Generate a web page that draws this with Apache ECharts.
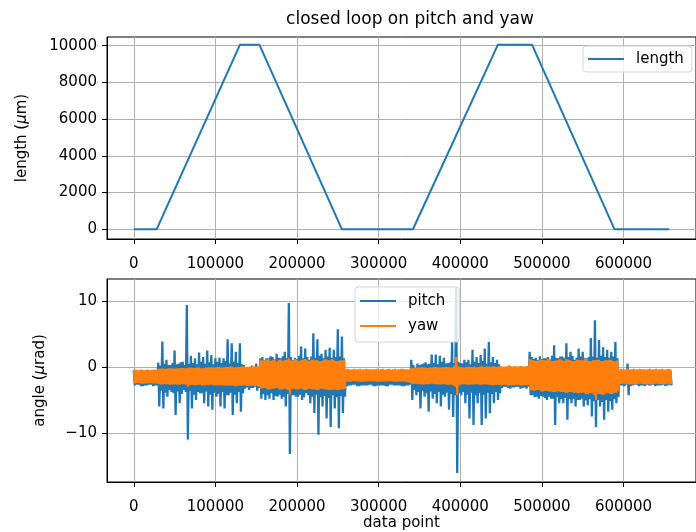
<!DOCTYPE html>
<html>
<head>
<meta charset="utf-8">
<script src="https://cdn.jsdelivr.net/npm/echarts@6/dist/echarts.min.js"></script>
<style>
html, body { margin: 0; padding: 0; background: #fff; }
#main { width: 696px; height: 532px; }
</style>
</head>
<body>
<div id="main"></div>
<script>
// length trace (top panel)
var lengthX = [0, 28000, 130000, 154000, 255000, 342000, 446000, 488000, 589000, 656000];
var lengthY = [0, 0, 10050, 10050, 0, 0, 10050, 10050, 0, 0];

// angle traces (bottom panel): upper / lower swing read every 2500 data points
var sampleStep = 2500;
var pitchHigh = [
  -0.6, -0.5, -0.7, -0.6, -0.5, -0.7, -0.6, -0.5, -0.7, -0.6, -0.5, -0.6,
  0.65, 0.2, 3.85, 0.5, 1.1, 0.3, 0.3, 0.6, 2.5, 0.4, 0.5, 0.7, 0.8, 0.3, 9.4, 0.5, 1.7, 0.6, 1.3, 0.4,
  2.2, 0.8, 1.5, 0.5, 2.5, 0.7, 1.8, 0.4, 1.3, 0.8, 1.4, 0.6, 1.3, 0.9, 4.2, 0.5, 3.6, 0.8, 2.3, 0.6, 3.6, 0.4,
  0.3, -0.2, 0.0, -0.1, 0.2, -0.3, 0.5, -0.1,
  1.3, 1.5, 1.0, 1.3, 1.3, 1.6, 1.5, 1.2, 2.0, 1.4, 1.3, 1.6, 2.3, 1.3, 9.7, 1.5, 1.0, 1.4, 1.2, 1.7,
  3.1, 1.3, 2.8, 1.5, 1.1, 1.6, 5.1, 1.4, 4.2, 1.7, 2.0, 1.3, 2.6, 1.6, 2.9, 1.4, 2.6, 1.5, 5.7, 1.6, 4.6, 1.3,
  -0.6, -0.5, -0.7, -0.6, -0.5, -0.6, -0.7, -0.5, -0.6, -0.6, -0.5, -0.7, -0.6, -0.5, -0.6, -0.7,
  -0.5, -0.6, -0.7, -0.6, -0.5, -0.6, -0.6, -0.7, -0.5, -0.6, -0.6, -0.5, -0.7, -0.6, -0.5, -0.6,
  1.1, 0.3, -0.2, 0.5, 0.3, 0.4, 0.5, 0.7, 0.4, 0.5, 1.9, 0.6, 1.9, 0.4, 1.7, 0.8, 1.4, 0.5, 0.6, 0.7, 3.8, 0.6,
  12.0, 0.8, 0.6, 0.5, 1.1, 0.7, 1.1, 0.4, 2.6, 0.8, 1.5, 0.6, 1.8, 0.9, 2.8, 0.5, 3.8, 0.7, 1.5, 0.6, 1.1, 0.4,
  0.0, -0.2, -0.1, -0.1, 0.2, -0.2, 0.0, -0.1, -0.1, -0.2, 0.1, 0.0, 0.0, -0.1,
  2.3, 1.5, 1.2, 1.4, 1.0, 1.6, 1.2, 1.3, 1.3, 1.5, 1.0, 1.7, 3.3, 1.4, 1.3, 1.6, 1.6, 1.3, 3.6, 1.5, 2.3, 1.7,
  1.1, 1.4, 2.8, 1.6, 2.3, 1.3, 1.3, 1.5, 4.4, 1.6, 7.1, 1.4, 4.1, 1.7, 3.0, 1.5, 2.6, 1.4, 2.3, 1.6, 3.8, 1.3,
  -0.6, -0.5, -0.5, -0.7, 0.5, -0.6, -0.6, -0.5, -0.7, -0.6, -0.5, -0.6, -0.6, -0.7,
  -0.6, -0.5, -0.5, -0.6, -0.7, -0.6, -0.6, -0.5, -0.5, -0.7, -0.6, -0.6];
var pitchLow = [
  -2.8, -2.7, -2.7, -2.9, -2.9, -2.8, -2.8, -2.7, -2.7, -2.9, -2.8, -2.8,
  -6.0, -3.6, -6.3, -3.9, -4.5, -3.5, -3.8, -4.0, -7.3, -3.7, -5.5, -4.1, -3.5, -3.8, -11.0, -3.6, -6.3, -4.2, -5.0, -3.8,
  -4.0, -4.0, -5.5, -3.7, -6.0, -4.2, -6.5, -3.9, -4.5, -4.1, -6.0, -3.8, -6.3, -4.3, -4.3, -3.9, -7.3, -4.2, -5.5, -3.8, -6.8, -4.0,
  -3.3, -3.1, -3.5, -3.2, -3.2, -3.0, -3.6, -3.2,
  -4.8, -4.1, -5.0, -4.3, -4.8, -4.0, -5.0, -4.4, -4.5, -4.2, -4.8, -4.5, -6.0, -4.1, -13.2, -4.3, -4.3, -4.5, -4.5, -4.2,
  -5.0, -4.6, -4.0, -4.3, -5.5, -4.5, -7.0, -4.2, -10.3, -4.6, -6.0, -4.4, -7.8, -4.7, -9.1, -4.3, -6.3, -4.6, -9.3, -4.4, -7.0, -4.5,
  -2.9, -2.8, -2.8, -2.7, -2.7, -2.9, -2.9, -2.8, -2.8, -2.8, -2.8, -2.7, -2.7, -2.9, -2.9, -2.8,
  -2.8, -2.8, -2.8, -2.9, -2.9, -2.7, -2.7, -2.8, -2.8, -2.8, -2.8, -2.9, -2.9, -2.8, -2.8, -2.7,
  -5.0, -3.5, -4.3, -3.8, -6.3, -3.6, -4.5, -4.0, -6.8, -3.7, -4.8, -4.1, -5.5, -3.8, -6.0, -4.2, -4.5, -3.9, -6.5, -4.1, -7.6, -4.3,
  -16.1, -4.0, -4.3, -3.8, -5.5, -4.2, -7.8, -3.9, -8.8, -4.3, -5.5, -4.0, -8.8, -4.2, -7.8, -3.9, -7.0, -4.1, -5.5, -3.8, -5.0, -4.0,
  -3.2, -3.0, -3.0, -3.2, -3.3, -3.1, -3.1, -3.0, -3.0, -3.3, -3.2, -3.1, -3.3, -3.0,
  -4.3, -4.3, -4.6, -4.5, -4.8, -4.4, -4.5, -4.7, -5.0, -4.5, -4.8, -4.8, -8.8, -4.6, -5.5, -4.9, -5.5, -4.7, -8.0, -4.9, -5.5, -4.8,
  -6.0, -5.0, -5.0, -4.8, -6.0, -5.1, -5.8, -4.9, -7.5, -5.2, -9.1, -5.0, -6.0, -5.3, -8.0, -5.0, -6.8, -5.2, -6.5, -4.9, -5.5, -4.6,
  -2.8, -2.8, -2.9, -2.7, -4.3, -2.9, -2.8, -2.7, -2.7, -2.9, -2.8, -2.8, -2.9, -2.7,
  -2.8, -2.8, -2.7, -2.9, -2.8, -2.8, -2.8, -2.7, -2.9, -2.8, -2.7, -2.8];
var yawHigh = [
  -0.45, -0.4, -0.5, -0.45, -0.4, -0.5, -0.45, -0.4, -0.5, -0.45, -0.4, -0.45,
  -0.3, -0.25, -0.2, -0.3, -0.3, -0.2, -0.2, -0.25, -0.25, -0.2, -0.2, -0.15, -0.15, -0.2, -0.2, -0.1, -0.1, -0.15,
  -0.15, -0.1, -0.1, -0.2, -0.2, -0.1, -0.1, -0.05, -0.05, -0.1, -0.1, 0.0, 0.0, -0.1, -0.1, 0.0, 0.0, 0.05, 0.05, -0.05,
  -0.05, 0.0, 0.0, 0.1, 0.1, 0.0, 0.0, 0.1, 0.1, 0.05, 0.05, 0.1,
  1.1, 1.0, 0.9, 1.1, 1.2, 0.9, 1.0, 1.2, 0.8, 1.0, 1.1, 0.9, 1.0, 1.1, 1.3, 1.0, 0.9, 1.2, 1.1, 0.9, 1.0, 1.1,
  1.2, 1.0, 0.9, 1.1, 1.1, 1.0, 1.0, 0.9, 0.9, 1.1, 1.2, 1.0, 1.0, 1.2, 1.1, 0.9, 0.9, 1.0, 1.0, 1.1,
  -0.35, -0.3, -0.4, -0.35, -0.3, -0.4, -0.35, -0.3, -0.4, -0.35, -0.3, -0.35, -0.35, -0.4, -0.35, -0.3,
  -0.4, -0.35, -0.3, -0.4, -0.35, -0.3, -0.4, -0.35, -0.3, -0.4, -0.35, -0.3, -0.3, -0.35, -0.35, -0.4,
  -0.1, -0.15, -0.2, -0.1, -0.1, -0.05, -0.05, -0.1, -0.15, -0.1, -0.1, 0.0, 0.0, -0.05, -0.1, -0.05, -0.05, 0.0, 0.0, -0.1, -0.1, 0.2,
  1.5, 0.1, 0.0, -0.05, -0.1, 0.0, 0.05, 0.0, 0.0, 0.05, -0.05, 0.0, 0.1, 0.05, 0.0, 0.1, 0.05, 0.0, 0.1, 0.05, 0.0, 0.1,
  0.1, 0.05, 0.05, 0.1, 0.15, 0.05, 0.1, 0.15, 0.05, 0.1, 0.15, 0.05, 0.1, 0.15,
  1.2, 1.1, 1.0, 0.9, 0.9, 1.1, 1.1, 1.0, 1.0, 1.2, 1.2, 0.9, 0.9, 1.0, 1.1, 1.2, 1.0, 0.9, 1.2, 1.1, 1.0, 0.9,
  0.9, 1.1, 1.1, 1.0, 1.0, 1.2, 1.2, 0.9, 0.9, 1.0, 1.0, 1.1, 1.1, 0.9, 0.9, 1.0, 1.0, 1.1, 1.1, 0.9, 0.9, 1.0,
  -0.35, -0.3, -0.4, -0.35, -0.3, -0.4, -0.35, -0.3, -0.4, -0.35, -0.3, -0.35, -0.35,
  -0.4, -0.35, -0.3, -0.4, -0.35, -0.3, -0.4, -0.35, -0.3, -0.4, -0.35, -0.3, -0.35];
var yawLow = [
  -2.5, -2.45, -2.45, -2.55, -2.55, -2.5, -2.5, -2.45, -2.45, -2.5, -2.5, -2.55,
  -2.6, -2.65, -2.65, -2.6, -2.6, -2.7, -2.7, -2.65, -2.65, -2.7, -2.7, -2.6, -2.6, -2.7, -3.0, -2.75, -2.7, -2.75,
  -2.75, -2.7, -2.7, -2.8, -2.8, -2.75, -2.75, -2.7, -2.7, -2.8, -2.8, -2.75, -2.75, -2.8, -2.8, -2.85, -2.85, -2.8, -2.8, -2.9,
  -2.9, -2.85, -2.85, -2.8, -2.8, -2.9, -2.9, -2.85, -2.85, -2.9, -2.9, -3.0,
  -3.3, -3.2, -3.2, -3.4, -3.4, -3.3, -3.3, -3.2, -3.2, -3.4, -3.4, -3.3, -3.3, -3.5, -4.2, -3.3, -3.3, -3.4, -3.4, -3.3, -3.3, -3.5,
  -3.5, -3.3, -3.3, -3.4, -3.4, -3.5, -3.5, -3.3, -3.3, -3.4, -3.4, -3.5, -3.5, -3.4, -3.4, -3.5, -3.5, -3.4, -3.4, -3.3,
  -2.2, -2.25, -2.25, -2.15, -2.15, -2.2, -2.2, -2.25, -2.25, -2.2, -2.2, -2.15, -2.15, -2.2, -2.2, -2.25,
  -2.25, -2.2, -2.2, -2.2, -2.2, -2.15, -2.15, -2.25, -2.25, -2.2, -2.2, -2.2, -2.2, -2.3, -2.3, -2.4,
  -2.6, -2.55, -2.55, -2.6, -2.6, -2.65, -2.65, -2.6, -2.6, -2.55, -2.55, -2.6, -2.6, -2.65, -2.65, -2.6, -2.6, -2.7, -2.7, -2.65, -2.8, -3.0,
  -4.3, -2.8, -2.65, -2.6, -2.6, -2.7, -2.7, -2.65, -2.65, -2.6, -2.6, -2.7, -2.7, -2.65, -2.65, -2.7, -2.7, -2.75, -2.75, -2.7, -2.7, -2.75,
  -2.75, -2.7, -2.7, -2.8, -2.8, -2.75, -2.75, -2.7, -2.7, -2.8, -2.8, -2.75, -2.75, -2.8,
  -3.5, -3.6, -3.6, -3.5, -3.5, -3.7, -3.7, -3.6, -3.6, -3.7, -3.7, -3.8, -3.8, -3.7, -3.7, -3.8, -3.8, -3.9, -3.9, -3.8, -3.8, -3.9,
  -3.9, -4.0, -4.0, -3.9, -3.9, -4.1, -4.1, -4.0, -4.0, -4.2, -5.0, -4.1, -4.1, -4.2, -4.2, -4.0, -4.0, -4.1, -4.1, -3.9, -3.9, -3.6,
  -2.6, -2.55, -2.55, -2.6, -2.6, -2.65, -2.65, -2.6, -2.6, -2.55, -2.55, -2.6, -2.6,
  -2.6, -2.6, -2.65, -2.65, -2.55, -2.55, -2.6, -2.6, -2.6, -2.6, -2.55, -2.55, -2.6];

// tick labels
var xTicks = [0, 100000, 200000, 300000, 400000, 500000, 600000];
var lengthTicks = [0, 2000, 4000, 6000, 8000, 10000];
var angleTicks = [-10, 0, 10];

var FONT = 'DejaVu Sans';

function pairs(xs, ys) {
    return xs.map(function (x, i) { return [x, ys[i]]; });
}

function swing(high, low) {
    var out = [];
    var n = Math.min(high.length, low.length);
    for (var i = 0; i < n; i++) {
        out.push([i * sampleStep, high[i]]);
        out.push([i * sampleStep + sampleStep / 2, low[i]]);
    }
    return out;
}

function minus(v) {
    return String(v).replace('-', '\u2212');
}

function xAxisCfg(gridIndex, withName) {
    var ax = {
        type: 'value', gridIndex: gridIndex, min: -32800, max: 688800,
        axisLine: { show: true, onZero: false, lineStyle: { color: '#000', width: 1 } },
        axisTick: { show: true, length: 5, customValues: xTicks, lineStyle: { color: '#000' } },
        axisLabel: { customValues: xTicks, margin: 12, fontSize: 15, fontFamily: FONT, color: '#000',
            padding: [6, 0, 0, 0], formatter: minus },
        splitLine: { show: true, lineStyle: { color: '#b0b0b0', width: 1 } }
    };
    if (withName) {
        ax.name = 'data point';
        ax.nameLocation = 'middle';
        ax.nameGap = 34;
        ax.nameTextStyle = { fontSize: 15, fontFamily: FONT, color: '#000' };
    }
    return ax;
}

function yAxisCfg(gridIndex, min, max, ticks, name, gap) {
    return {
        type: 'value', gridIndex: gridIndex, min: min, max: max,
        name: name, nameLocation: 'middle', nameGap: gap,
        nameTextStyle: { fontSize: 15, fontFamily: FONT, color: '#000',
            rich: { i: { fontStyle: 'italic', fontSize: 15, fontFamily: FONT, color: '#000' } } },
        axisLine: { show: true, onZero: false, lineStyle: { color: '#000', width: 1 } },
        axisTick: { show: true, length: 5, customValues: ticks, lineStyle: { color: '#000' } },
        axisLabel: { customValues: ticks, margin: 10, fontSize: 15, fontFamily: FONT, color: '#000', formatter: minus },
        splitLine: { show: true, lineStyle: { color: '#b0b0b0', width: 1 } }
    };
}

var legendBase = {
    orient: 'vertical', icon: 'rect', itemWidth: 36, itemHeight: 2, itemGap: 9,
    backgroundColor: 'rgba(255,255,255,0.8)', borderColor: '#d5d5d5', borderWidth: 1, borderRadius: 3,
    textStyle: { fontSize: 15, fontFamily: FONT, color: '#000', lineHeight: 16, padding: [0, 0, 0, 7] }
};

var myChart = echarts.init(document.getElementById('main'));

var option = {
    animation: false,
    backgroundColor: '#fff',
    title: {
        text: 'closed loop on pitch and yaw', left: 405, top: 6, textAlign: 'center',
        textStyle: { fontSize: 17, fontWeight: 'normal', fontFamily: FONT, color: '#000' }
    },
    legend: [
        Object.assign({}, legendBase, { data: ['length'], left: 583, top: 46, padding: [5, 8, 5, 5] }),
        Object.assign({}, legendBase, { data: ['pitch', 'yaw'], left: 355, top: 287, padding: [6, 14, 8, 5] })
    ],
    grid: [
        { left: 107, right: -8, top: 37, height: 202, show: true, borderColor: '#000', borderWidth: 1 },
        { left: 107, right: -8, top: 279, height: 203, show: true, borderColor: '#000', borderWidth: 1 }
    ],
    xAxis: [xAxisCfg(0, false), xAxisCfg(1, true)],
    yAxis: [
        yAxisCfg(0, -529, 10475, lengthTicks, 'length ({i|μ}m)', 77),
        yAxisCfg(1, -17.45, 13.34, angleTicks, 'angle ({i|μ}rad)', 59)
    ],
    series: [
        { name: 'length', type: 'line', xAxisIndex: 0, yAxisIndex: 0, symbol: 'none',
          lineStyle: { width: 2, color: '#1f77b4' }, itemStyle: { color: '#1f77b4' },
          data: pairs(lengthX, lengthY) },
        { name: 'pitch', type: 'line', xAxisIndex: 1, yAxisIndex: 1, symbol: 'none',
          lineStyle: { width: 2.3, color: '#1f77b4' }, itemStyle: { color: '#1f77b4' },
          data: swing(pitchHigh, pitchLow) },
        { name: 'yaw', type: 'line', xAxisIndex: 1, yAxisIndex: 1, symbol: 'none',
          lineStyle: { width: 2, color: '#ff7f0e' }, itemStyle: { color: '#ff7f0e' },
          data: swing(yawHigh, yawLow) }
    ]
};

myChart.setOption(option);
</script>
</body>
</html>
